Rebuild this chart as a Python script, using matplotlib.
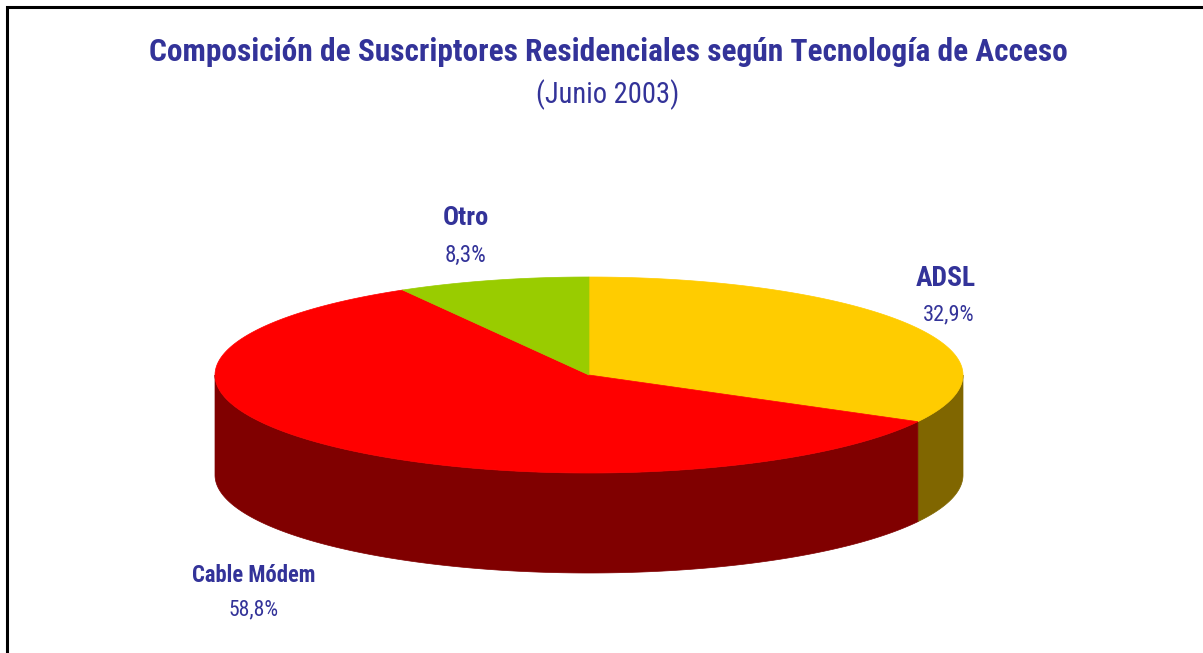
import numpy as np
import matplotlib.pyplot as plt
from matplotlib.patches import Polygon

# data
categories = ['ADSL', 'Cable Módem', 'Otro']
shares = [32.9, 58.8, 8.3]
pct_labels = ['32,9%', '58,8%', '8,3%']
top_colors = ['#FFCC00', '#FF0000', '#99CC00']
side_colors = ['#806600', '#800000', '#4C6600']

plt.rcParams['font.family'] = ['Liberation Sans Narrow', 'Roboto Condensed', 'Liberation Sans']
blue = '#333399'

fig = plt.figure(figsize=(12.03, 6.53), dpi=100)
ax = fig.add_axes([0, 0, 1, 1])
ax.set_xlim(0, 1203)
ax.set_ylim(653, 0)
ax.axis('off')
renderer = fig.canvas.get_renderer()


def fit(t, width_px):
    # shrink/grow the font so the text is as wide as in the reference
    w = t.get_window_extent(renderer).width
    t.set_fontsize(t.get_fontsize() * width_px / w)


# pie geometry (pixels)
cx, cy = 589, 375
rx, ry = 374, 98
depth = 100


def arc(t0, t1, n=200):
    t = np.radians(np.linspace(t0, t1, n))
    return cx + rx * np.cos(t), cy - ry * np.sin(t)


# slices go clockwise from 12 o'clock
angles = []
start = 90.0
for s in shares:
    end = start - s / 100 * 360
    angles.append((start, end))
    start = end

# side walls (front half only)
for (a0, a1), col in zip(angles, side_colors):
    lo, hi = min(a0, a1), max(a0, a1)
    for shift in (0, -360, 360):
        l, h = lo + shift, hi + shift
        l2, h2 = max(l, -180), min(h, 0)
        if h2 > l2:
            x, y = arc(l2, h2)
            pts = np.column_stack([np.r_[x, x[::-1]], np.r_[y, (y + depth)[::-1]]])
            ax.add_patch(Polygon(pts, closed=True, fc=col, ec=col, lw=0.5))

# top faces
for (a0, a1), col in zip(angles, top_colors):
    x, y = arc(a0, a1)
    pts = np.column_stack([np.r_[cx, x], np.r_[cy, y]])
    ax.add_patch(Polygon(pts, closed=True, fc=col, ec=col, lw=0.5))

# labels: (name x, name y, name width, pct x, pct y, pct width)
label_pos = {'ADSL': (946, 279, 60, 949, 315, 52),
             'Cable Módem': (254, 576, 124, 254, 610, 50),
             'Otro': (466, 218, 46, 466, 255, 42)}
for cat, pct in zip(categories, pct_labels):
    x1, y1, w1, x2, y2, w2 = label_pos[cat]
    t = ax.text(x1, y1, cat, ha='center', va='center', fontsize=16,
                fontweight='bold', color=blue)
    fit(t, w1)
    t = ax.text(x2, y2, pct, ha='center', va='center', fontsize=16, color=blue)
    fit(t, w2)

t = ax.text(608, 52, 'Composición de Suscriptores Residenciales según Tecnología de Acceso',
            ha='center', va='center', fontsize=22, fontweight='bold', color=blue)
fit(t, 918)
t = ax.text(608, 95, '(Junio 2003)', ha='center', va='center', fontsize=22, color=blue)
fit(t, 143)

# frame: only top and left edges show in the crop
ax.plot([7, 7, 1203], [653, 7, 7], color='black', lw=2.2, solid_joinstyle='miter')

fig.savefig('out.png', dpi=100, facecolor='white')
